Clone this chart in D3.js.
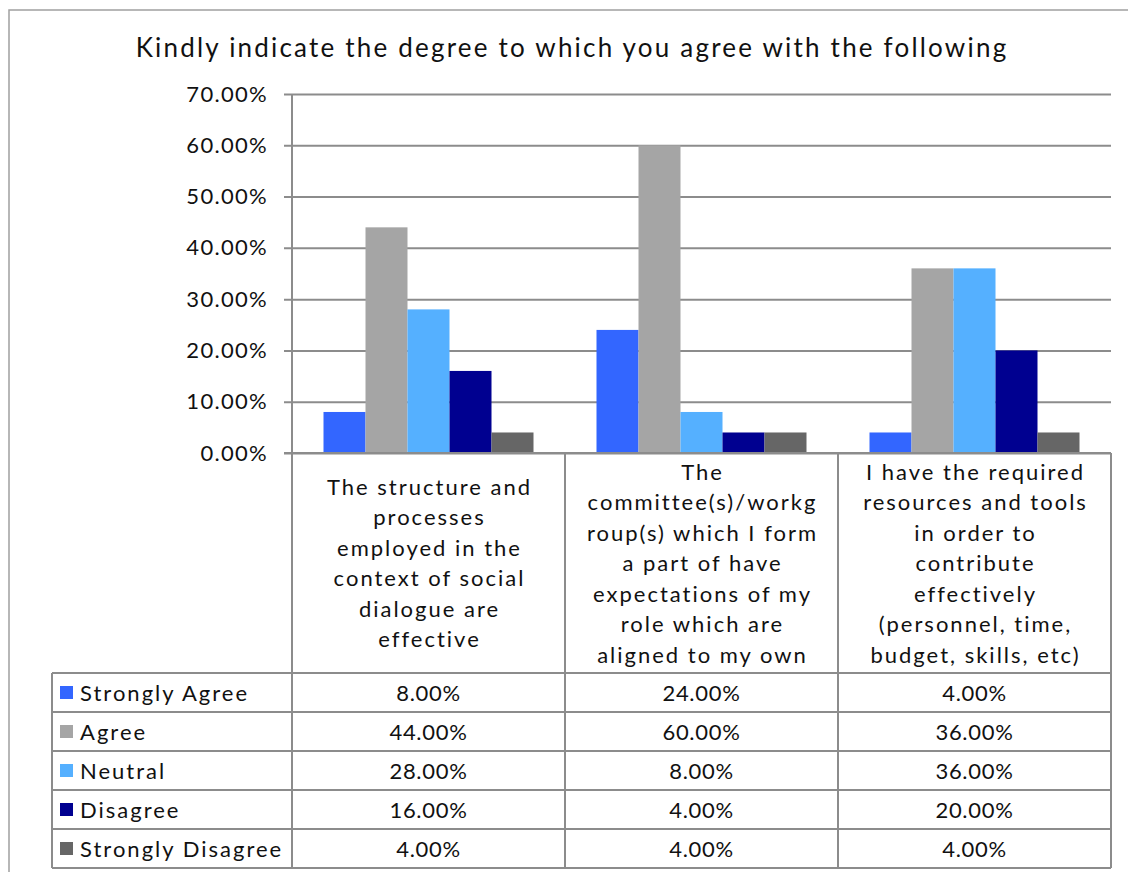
<!DOCTYPE html>
<html>
<head>
<meta charset="utf-8">
<script src="https://cdn.jsdelivr.net/npm/d3@7/dist/d3.min.js"></script>
<style>
  html, body { margin: 0; padding: 0; background: #fff; }
  svg { display: block; }
  text { font-family: Lato, "Open Sans", sans-serif; fill: #111; }
  .word { letter-spacing: 2px; }
  .num { letter-spacing: 0.7px; }
</style>
</head>
<body>
<svg id="chart" width="1128" height="872"></svg>
<script>
// Survey responses per statement
const categories = [
  ["The structure and", "processes", "employed in the", "context of social", "dialogue are", "effective"],
  ["The", "committee(s)/workg", "roup(s) which I form", "a part of have", "expectations of my", "role which are", "aligned to my own"],
  ["I have the required", "resources and tools", "in order to", "contribute", "effectively", "(personnel, time,", "budget, skills, etc)"]
];
const seriesNames = ["Strongly Agree", "Agree", "Neutral", "Disagree", "Strongly Disagree"];
const seriesColors = ["#3366FF", "#A5A5A5", "#55B0FF", "#000090", "#666666"];
const strongAgree    = [0.08, 0.24, 0.04];
const agree          = [0.44, 0.60, 0.36];
const neutral        = [0.28, 0.08, 0.36];
const disagree       = [0.16, 0.04, 0.20];
const strongDisagree = [0.04, 0.04, 0.04];
const seriesValues = [strongAgree, agree, neutral, disagree, strongDisagree];
const yTicks = [0, 0.1, 0.2, 0.3, 0.4, 0.5, 0.6, 0.7];
const title = "Kindly indicate the degree to which you agree with the following";

const svg = d3.select("#chart");
const gridColor = "#8c8c8c";
const fontSize = "22px";

const plot = { left: 292, right: 1111, top: 94, bottom: 453 };
const tableLeft = 52, headerBottom = 673, rowH = 39;

const x0 = d3.scaleBand().domain(d3.range(categories.length)).range([plot.left, plot.right]).paddingInner(0).paddingOuter(0);
const x1 = d3.scaleBand().domain(d3.range(seriesNames.length)).range([0, x0.bandwidth()]).paddingOuter(0.75).paddingInner(0);
const y = d3.scaleLinear().domain([0, 0.7]).range([plot.bottom, plot.top]);
const fmt = d3.format(".2%");

// outer chart frame
svg.append("rect").attr("x", 9).attr("y", 10).attr("width", 1140).attr("height", 880)
  .attr("fill", "none").attr("stroke", "#a0a0a0").attr("stroke-width", 1.5);

// title
svg.append("text").attr("x", 572).attr("y", 57).attr("text-anchor", "middle")
  .style("font-size", "26px").style("letter-spacing", "2.2px").text(title);

// gridlines + y axis
const yAxis = d3.axisLeft(y).tickValues(yTicks).tickFormat(fmt)
  .tickSize(-(plot.right - plot.left)).tickSizeOuter(0).tickPadding(24);
const ga = svg.append("g").attr("transform", `translate(${plot.left},0)`).call(yAxis);
ga.select(".domain").remove();
ga.selectAll(".tick line").attr("x1", -8).attr("stroke", gridColor).attr("stroke-width", 2);
ga.selectAll(".tick text").style("font-size", "22px").style("font-family", "Lato, sans-serif")
  .style("letter-spacing", "1.3px").attr("fill", "#111");

// bars
categories.forEach((c, ci) => {
  seriesValues.forEach((vals, si) => {
    svg.append("rect")
      .attr("x", x0(ci) + x1(si))
      .attr("y", y(vals[ci]))
      .attr("width", x1.bandwidth())
      .attr("height", y(0) - y(vals[ci]))
      .attr("fill", seriesColors[si]);
  });
});

// baseline
svg.append("line").attr("x1", plot.left - 8).attr("x2", plot.right)
  .attr("y1", y(0)).attr("y2", y(0)).attr("stroke", gridColor).attr("stroke-width", 2);

// data table lines
const tableBottom = headerBottom + rowH * seriesNames.length;
const lines = svg.append("g").attr("stroke", gridColor).attr("stroke-width", 2);
d3.range(categories.length + 1).forEach(i => {
  const xx = i < categories.length ? x0(i) : plot.right;
  lines.append("line").attr("x1", xx).attr("x2", xx)
    .attr("y1", i === 0 ? plot.top : y(0)).attr("y2", tableBottom);
});
d3.range(seriesNames.length + 1).forEach(r => {
  const yy = headerBottom + r * rowH;
  lines.append("line").attr("x1", tableLeft).attr("x2", plot.right).attr("y1", yy).attr("y2", yy);
});
lines.append("line").attr("x1", tableLeft).attr("x2", tableLeft).attr("y1", headerBottom).attr("y2", tableBottom);

// category headers
const lineH = 30.5;
categories.forEach((c, ci) => {
  const cx = x0(ci) + x0.bandwidth() / 2 + 1;
  const mid = (y(0) + headerBottom) / 2;
  const t = svg.append("text").attr("class", "word").attr("text-anchor", "middle").style("font-size", fontSize);
  c.forEach((ln, li) => {
    t.append("tspan").attr("x", cx)
      .attr("y", mid + (li - (c.length - 1) / 2) * lineH + 8)
      .text(ln);
  });
});

// legend rows and values
seriesNames.forEach((name, si) => {
  const cy = headerBottom + si * rowH + rowH / 2;
  svg.append("rect").attr("x", 60).attr("y", cy - 6.5).attr("width", 13).attr("height", 13)
    .attr("fill", seriesColors[si]);
  svg.append("text").attr("class", "word").attr("x", 80).attr("y", cy + 8).style("font-size", fontSize).text(name);
  seriesValues[si].forEach((v, ci) => {
    svg.append("text").attr("class", "num").attr("x", x0(ci) + x0.bandwidth() / 2).attr("y", cy + 8)
      .attr("text-anchor", "middle").style("font-size", fontSize).text(fmt(v));
  });
});
</script>
</body>
</html>
